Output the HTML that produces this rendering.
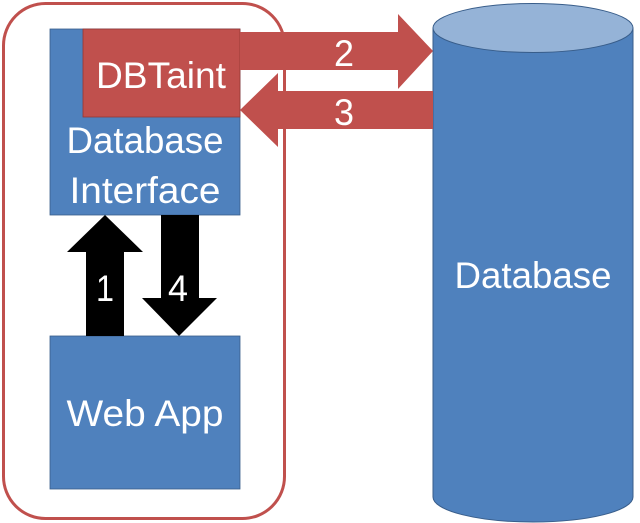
<!DOCTYPE html>
<html><head><meta charset="utf-8"><style>html,body{margin:0;padding:0;background:#fff}svg{display:block}</style></head>
<body>
<svg width="640" height="523" viewBox="0 0 640 523" xmlns="http://www.w3.org/2000/svg" font-family="Liberation Sans, sans-serif" fill="#fff">
<rect x="3.5" y="3.5" width="281" height="515" rx="42" fill="none" stroke="#C0504D" stroke-width="3"/>
<path d="M433 28 L433 497 A100 25 0 0 0 633 497 L633 28 Z" fill="#4F81BD" stroke="#385D8A" stroke-width="1"/>
<ellipse cx="533" cy="28" rx="100" ry="24.5" fill="#95B3D7" stroke="#385D8A" stroke-width="1"/>
<rect x="50" y="29" width="190" height="186" fill="#4F81BD" stroke="#385D8A" stroke-width="0.8"/>
<rect x="83" y="29" width="157" height="88" fill="#C0504D" stroke="#943634" stroke-width="0.8"/>
<rect x="50" y="336" width="190" height="153" fill="#4F81BD" stroke="#385D8A" stroke-width="0.8"/>
<polygon points="240,32 398,32 398,14 433,51 398,89 398,70 240,70" fill="#C0504D"/>
<polygon points="433,91 278,91 278,73 240,110 278,147 278,129 433,129" fill="#C0504D"/>
<polygon points="86,336 86,252 67,252 105,215 143,252 124,252 124,336" fill="#000"/>
<polygon points="161,215 199,215 199,298 217,298 179,336 142,298 161,298" fill="#000"/>
<g font-size="37" text-anchor="middle">
<text x="161" y="88" textLength="130" lengthAdjust="spacingAndGlyphs">DBTaint</text>
<text x="145" y="153" textLength="157" lengthAdjust="spacingAndGlyphs">Database</text>
<text x="145" y="203" textLength="151" lengthAdjust="spacingAndGlyphs">Interface</text>
<text x="145" y="426" textLength="157" lengthAdjust="spacingAndGlyphs">Web App</text>
<text x="533" y="288" textLength="157" lengthAdjust="spacingAndGlyphs">Database</text>
<text x="105" y="301" textLength="18" lengthAdjust="spacingAndGlyphs">1</text>
<text x="178" y="301" textLength="20" lengthAdjust="spacingAndGlyphs">4</text>
<text x="344" y="66" textLength="20" lengthAdjust="spacingAndGlyphs">2</text>
<text x="344" y="125" textLength="20" lengthAdjust="spacingAndGlyphs">3</text>
</g>
</svg>
</body></html>
